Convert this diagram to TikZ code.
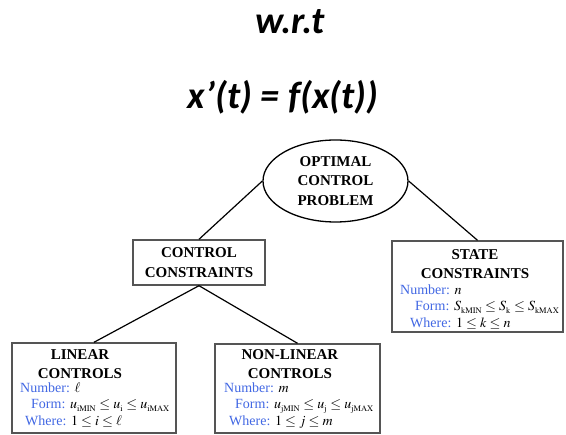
\documentclass[tikz,border=0pt]{standalone}
\usepackage{mathptmx}
\usepackage{fontspec}
\setmainfont{Liberation Serif}
\newfontfamily\calibfont{Carlito}
\usetikzlibrary{shapes.geometric,calc}
\definecolor{LabelBlue}{RGB}{66,104,228}
\definecolor{BoxGray}{RGB}{85,85,85}
\newcommand{\fieldname}[1]{{\color{LabelBlue}#1}}
\newcommand{\bnd}[1]{_{\scriptscriptstyle\mathrm{#1}}}
\tikzset{
  cbox/.style={draw=BoxGray, line width=1.4pt, fill=white, inner sep=0pt},
  ttl/.style={font=\fontsize{15}{19.5}\selectfont\bfseries, align=center, inner sep=0pt},
  info/.style={font=\fontsize{14}{16}\selectfont, anchor=base west, inner sep=0pt},
  head/.style={anchor=base, inner sep=0pt, font=\calibfont\fontsize{38}{44}\selectfont\bfseries\itshape},
  link/.style={line width=1.2pt, black}
}

\begin{document}
\begin{tikzpicture}[x=1pt, y=-1pt]
  \useasboundingbox (0,0) rectangle (566,435);
  % heading
  \node[head] (wrt) at (290,34) {w.r.t};
  \node[head] (ode) at (283,109) {x’(t) = f(x(t))};

  % tree
  \node[ellipse, draw, line width=1.3pt, minimum width=145, minimum height=82, ttl] (ocp) at (335.5,181) {OPTIMAL\\CONTROL\\PROBLEM};
  \node[cbox, ttl, minimum width=132, minimum height=45] (ctrl) at (199,262.5) {CONTROL\\CONSTRAINTS};
  \node[cbox, minimum width=171, minimum height=91] (state) at (477.5,286.5) {};
  \node[cbox, minimum width=164, minimum height=90] (lin) at (94,388) {};
  \node[cbox, minimum width=165, minimum height=89] (nonlin) at (297.5,388.5) {};

  \draw[link] (ocp.west) -- (ctrl.north);
  \draw[link] (ocp.east) -- (state.north);
  \draw[link] (ctrl.south) -- (lin.north);
  \draw[link] (ctrl.south) -- (nonlin.north);

  % state constraints
  \node[ttl, anchor=north] (statettl) at (475,249) {STATE\\CONSTRAINTS};
  \node[info] (statenum) at (400,295) {\fieldname{Number:} $n$};
  \node[info] (stateform) at (415,311) {\fieldname{Form:} $S\bnd{kMIN}\le S\bnd{k}\le S\bnd{kMAX}$};
  \node[info] (statewhere) at (410,328) {\fieldname{Where:} $1\le k\le n$};

  % linear controls
  \node[ttl, anchor=north] (linttl) at (80,349) {LINEAR\\CONTROLS};
  \node[info] (linnum) at (20,393) {\fieldname{Number:} $\ell$};
  \node[info] (linform) at (31,409) {\fieldname{Form:} $u\bnd{iMIN}\le u\bnd{i}\le u\bnd{iMAX}$};
  \node[info] (linwhere) at (25,426) {\fieldname{Where:} $1\le i\le \ell$};

  % non-linear controls
  \node[ttl, anchor=north] (nonlinttl) at (290,349) {NON-LINEAR\\CONTROLS};
  \node[info] (nonlinnum) at (224,393) {\fieldname{Number:} $m$};
  \node[info] (nonlinform) at (235,409) {\fieldname{Form:} $u\bnd{jMIN}\le u\bnd{j}\le u\bnd{jMAX}$};
  \node[info] (nonlinwhere) at (229,426) {\fieldname{Where:} $1\le j\le m$};
\end{tikzpicture}
\end{document}
